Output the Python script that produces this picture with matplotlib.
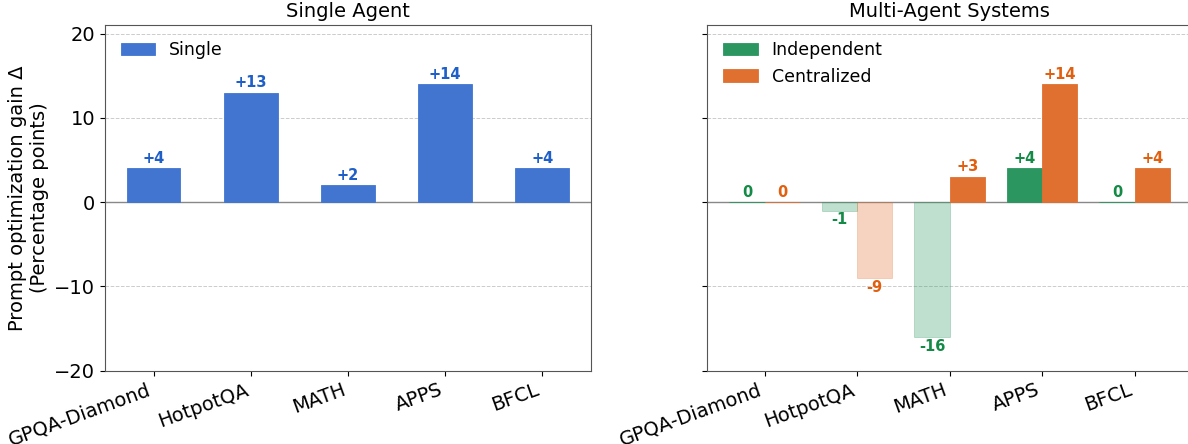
import numpy as np
import matplotlib.pyplot as plt

benchmarks = ['GPQA-Diamond', 'HotpotQA', 'MATH', 'APPS', 'BFCL']
single_gain = [4, 13, 2, 14, 4]
independent_gain = [0, -1, -16, 4, 0]
centralized_gain = [0, -9, 3, 14, 4]

c_single, t_single = '#4175d0', '#1f5fc8'
c_indep, t_indep = '#2b9660', '#138a45'
c_cent, t_cent = '#e07030', '#e0600f'


def fmt(v):
    return f'+{v}' if v > 0 else f'{v}'


def draw_bars(ax, xpos, vals, width, color, tcolor, label):
    alphas = [1.0 if v >= 0 else 0.3 for v in vals]
    for i, (x, v, a) in enumerate(zip(xpos, vals, alphas)):
        ax.bar(x, v, width, color=color, alpha=a, edgecolor=color, linewidth=0.6,
               label=label if i == 0 else None, zorder=3)
        if v >= 0:
            ax.text(x, v + 0.3, fmt(v), ha='center', va='bottom', color=tcolor,
                    fontsize=10.5, fontweight='bold', zorder=4)
        else:
            ax.text(x, v - 0.2, fmt(v), ha='center', va='top', color=tcolor,
                    fontsize=10.5, fontweight='bold', zorder=4)


def style(ax, title):
    ax.set_title(title, fontsize=14)
    ax.set_ylim(-20, 21)
    ax.set_yticks([-20, -10, 0, 10, 20])
    ax.axhline(0, color='#888888', linewidth=1, zorder=2)
    ax.yaxis.grid(True, linestyle='--', color='#cccccc', linewidth=0.7, zorder=0)
    ax.set_axisbelow(True)
    ax.set_xticks(np.arange(len(benchmarks)))
    ax.set_xticklabels(benchmarks, rotation=20, ha='right', fontsize=14)
    ax.tick_params(axis='y', labelsize=14)
    for s in ax.spines.values():
        s.set_color('#555555')
    ax.legend(loc='upper left', frameon=False, fontsize=12.5)


fig = plt.figure(figsize=(11.88, 4.44), dpi=100)
ax1 = fig.add_axes([0.0884, 0.1651, 0.409, 0.778])
ax2 = fig.add_axes([0.5955, 0.1651, 0.4077, 0.778], sharey=ax1)

x = np.arange(len(benchmarks))
draw_bars(ax1, x, single_gain, 0.55, c_single, t_single, 'Single')
style(ax1, 'Single Agent')
ax1.set_ylabel('Prompt optimization gain Δ\n(Percentage points)', fontsize=14)

w = 0.38
draw_bars(ax2, x - w / 2, independent_gain, w, c_indep, t_indep, 'Independent')
draw_bars(ax2, x + w / 2, centralized_gain, w, c_cent, t_cent, 'Centralized')
style(ax2, 'Multi-Agent Systems')
ax2.tick_params(axis='y', labelleft=False)

fig.savefig('out.png', dpi=100)
